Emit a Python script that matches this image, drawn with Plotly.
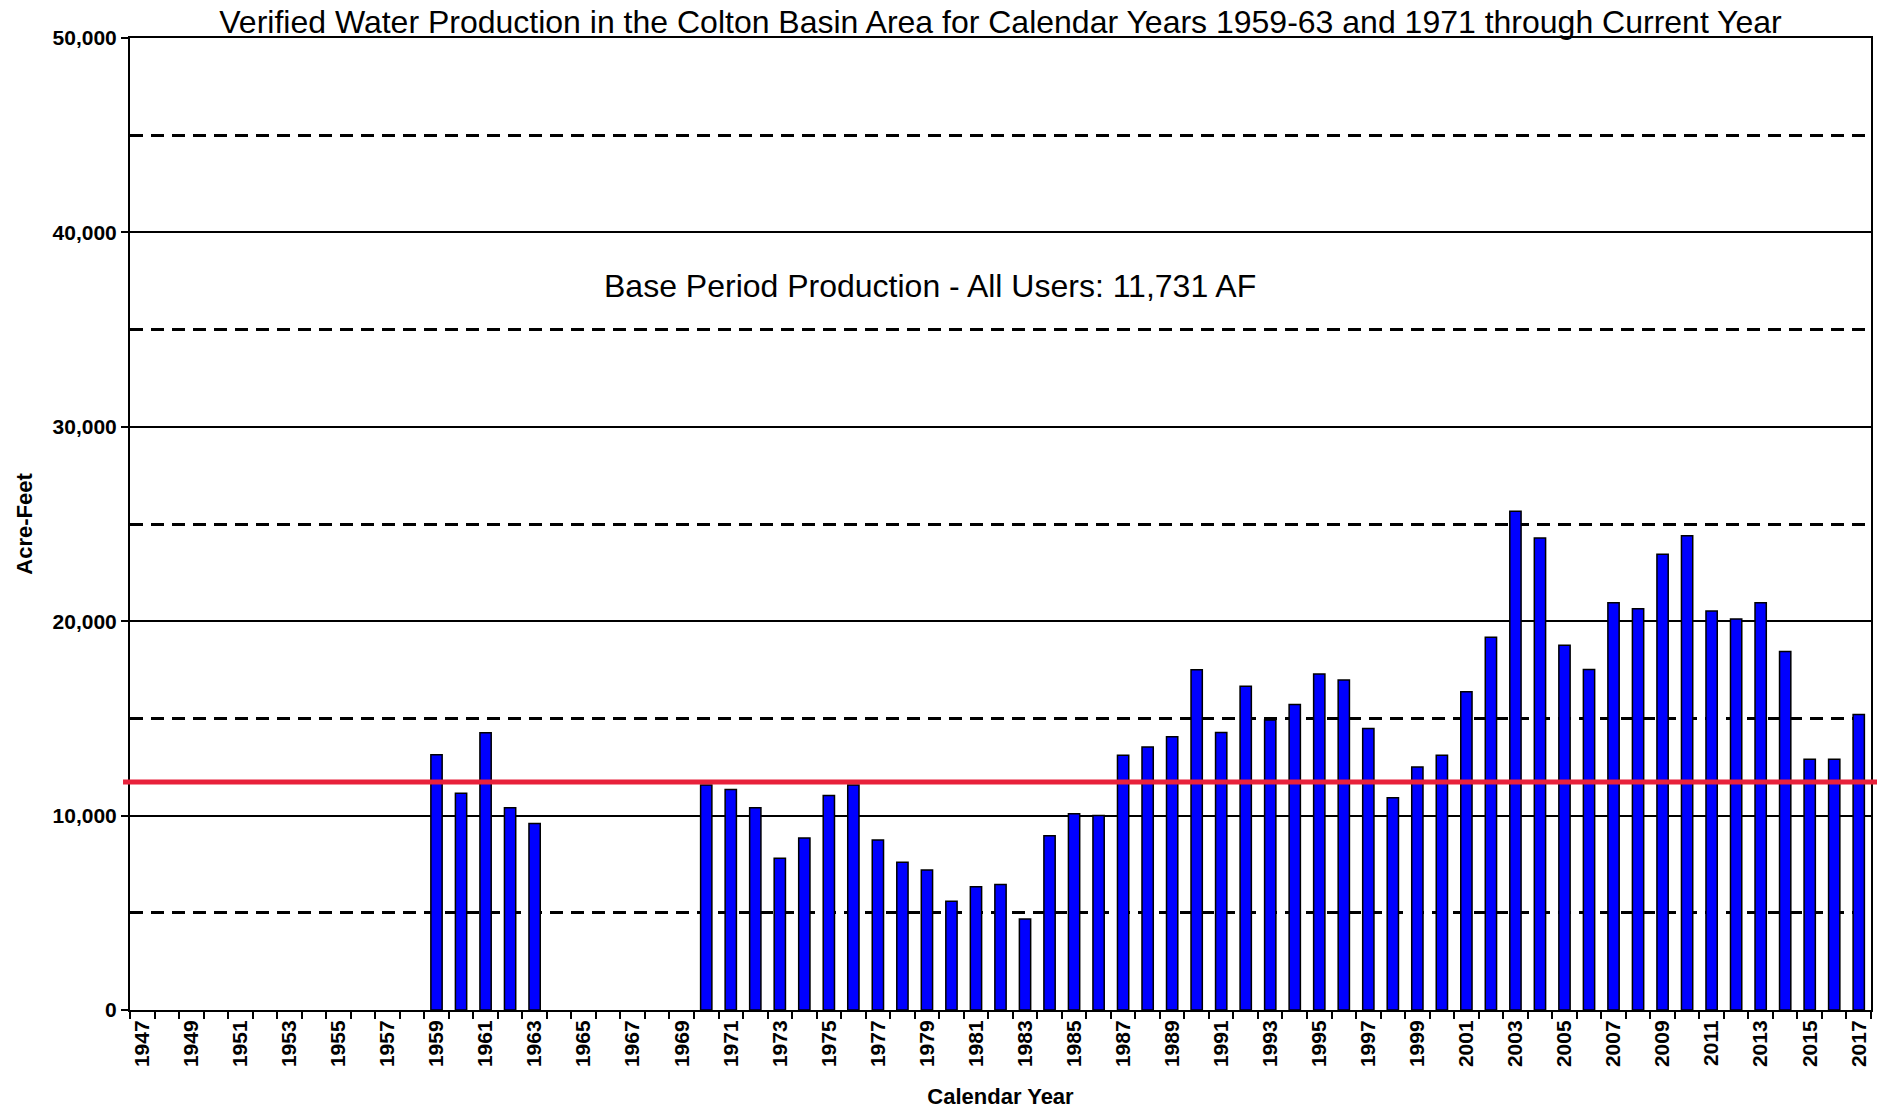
import plotly.graph_objects as go

# Calendar years with verified production (1959-63, then 1970 onward)
YEARS = list(range(1959, 1964)) + list(range(1970, 2018))

# Verified water production, acre-feet
PRODUCTION_AF = [
    13130, 11150, 14260, 10410, 9590,
    11580, 11340, 10400, 7800, 8850, 11040, 11580, 8750, 7600, 7200,
    5600, 6340, 6450, 4680, 8960, 10100, 10000, 13110, 13530, 14060,
    17500, 14280, 16660, 14920, 15720, 17280, 16970, 14480, 10920, 12500,
    13110, 16370, 19180, 25650, 24280, 18760, 17520, 20950, 20640, 23440,
    24390, 20520, 20110, 20950, 18440, 12900, 12900, 15200,
]

BASE_PERIOD_AF = 11731
FIRST_YEAR, LAST_YEAR = 1947, 2017

FONT = "Arial, Liberation Sans, sans-serif"

fig = go.Figure()

fig.add_trace(go.Bar(
    x=YEARS,
    y=PRODUCTION_AF,
    width=0.46,
    marker=dict(color="#0000FF", line=dict(color="black", width=1.5)),
    showlegend=False,
))

# base period line, runs slightly past both plot edges like the original
fig.add_shape(
    type="line", xref="paper", yref="y",
    x0=-0.004, x1=1.005, y0=BASE_PERIOD_AF, y1=BASE_PERIOD_AF,
    line=dict(color="#E8213B", width=5), layer="above",
)

fig.add_annotation(
    text=f"Base Period Production - All Users: {BASE_PERIOD_AF:,} AF",
    xref="paper", yref="paper", x=0.4595, y=0.745,
    xanchor="center", yanchor="middle",
    showarrow=False, font=dict(family=FONT, size=32, color="black"),
)

# page body adds an 8px margin, so the figure is a bit smaller than the window
fig.update_layout(
    width=1877, height=1104,
    margin=dict(l=122, r=14, t=30, b=102),
    paper_bgcolor="white", plot_bgcolor="white",
    title=dict(
        text="Verified Water Production in the Colton Basin Area for Calendar Years 1959-63 and 1971 through Current Year",
        x=0.5, xref="paper", xanchor="center",
        y=0.9877, yref="container", yanchor="middle",
        font=dict(family=FONT, size=32, color="black"),
    ),
)

fig.update_xaxes(
    range=[FIRST_YEAR - 0.5, LAST_YEAR + 0.5],
    tick0=FIRST_YEAR, dtick=2, tickangle=-90, ticks="",
    tickfont=dict(family=FONT, size=21, color="black", weight="bold"),
    minor=dict(tick0=FIRST_YEAR - 0.5, dtick=1, ticks="outside",
               ticklen=7, tickwidth=2, tickcolor="black"),
    showgrid=False, zeroline=False,
    showline=True, linecolor="black", linewidth=2, mirror=True,
    title=dict(text="Calendar Year", standoff=22,
               font=dict(family=FONT, size=22, color="black", weight="bold")),
    automargin=False,
)

fig.update_yaxes(
    range=[0, 50000], tick0=0, dtick=10000, tickformat=",d",
    ticks="outside", ticklen=7, tickwidth=2, tickcolor="black",
    tickfont=dict(family=FONT, size=21, color="black", weight="bold"),
    showgrid=True, gridcolor="black", gridwidth=2,
    minor=dict(tick0=0, dtick=5000, showgrid=True, gridcolor="black",
               gridwidth=3, griddash="13px,8px"),
    zeroline=False,
    showline=True, linecolor="black", linewidth=2, mirror=True,
    title=dict(text="Acre-Feet", standoff=14,
               font=dict(family=FONT, size=22, color="black", weight="bold")),
    automargin=False,
)

fig.write_html("out.html")
